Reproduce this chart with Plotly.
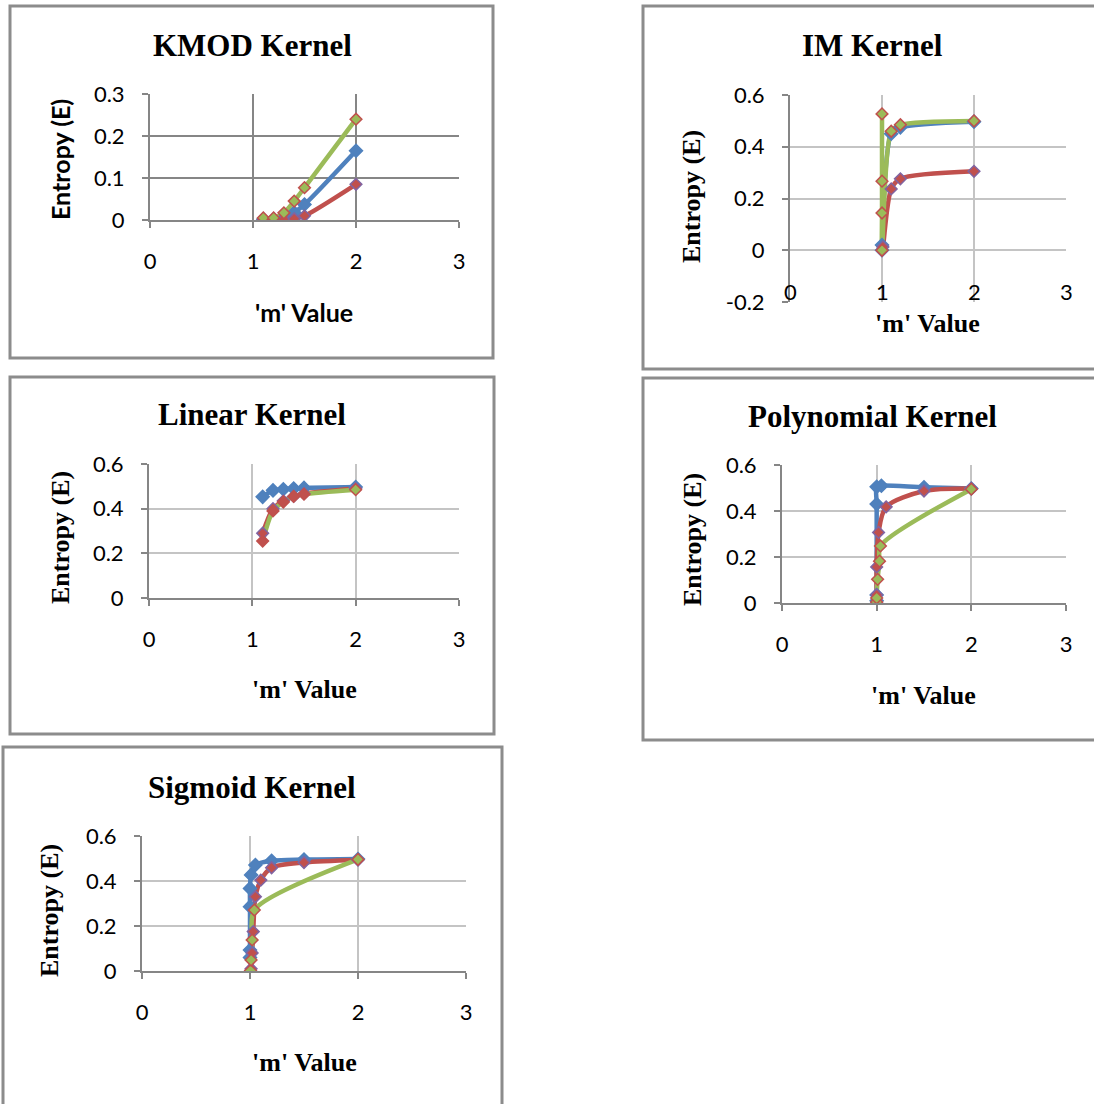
import plotly.graph_objects as go

W, H = 1094, 1104
BLUE = '#4F81BD'
RED = '#C0504D'
GREEN = '#9BBB59'
PURPLE = '#8064A2'
AXIS = '#868686'
GRID_LIGHT = '#C4C4C4'

# ---------------- data ----------------
x_ticks = [0, 1, 2, 3]
x_ticktext = ['0', '1', '2', '3']

# KMOD Kernel
kmod_m = [1.1, 1.2, 1.3, 1.4, 1.5, 2]
kmod_blue = [0.002, 0.002, 0.004, 0.018, 0.037, 0.165]
kmod_red = [0.001, 0.001, 0.002, 0.003, 0.010, 0.085]
kmod_green = [0.005, 0.005, 0.017, 0.045, 0.077, 0.240]

# IM Kernel
im_blue_m = [1.0, 1.0, 1.1, 1.2, 2]
im_blue = [0.0, 0.02, 0.45, 0.475, 0.497]
im_red_m = [1.0, 1.01, 1.1, 1.2, 2]
im_red = [0.0, 0.013, 0.237, 0.276, 0.305]
im_green_m = [1.0, 1.0, 1.0, 1.0, 1.1, 1.2, 2]
im_green = [0.527, 0.267, 0.144, 0.0, 0.46, 0.485, 0.50]

# Linear Kernel
lin_m = [1.1, 1.2, 1.3, 1.4, 1.5, 2]
lin_blue = [0.453, 0.482, 0.487, 0.490, 0.493, 0.497]
lin_red = [0.290, 0.400, 0.435, 0.455, 0.467, 0.490]
lin_green = [0.255, 0.390, 0.430, 0.455, 0.465, 0.485]

# Polynomial Kernel
poly_blue_m = [1.0, 1.0, 1.0, 1.0, 1.05, 1.5, 2]
poly_blue = [0.01, 0.035, 0.43, 0.505, 0.51, 0.503, 0.498]
poly_red_m = [1.0, 1.0, 1.0, 1.02, 1.1, 1.5, 2]
poly_red = [0.0, 0.036, 0.157, 0.307, 0.418, 0.487, 0.498]
poly_green_m = [1.0, 1.0, 1.01, 1.03, 1.04, 2]
poly_green = [0.004, 0.022, 0.103, 0.182, 0.248, 0.495]

# Sigmoid Kernel
sig_blue_m = [1.0, 1.0, 1.0, 1.0, 1.01, 1.05, 1.2, 1.5, 2]
sig_blue = [0.06, 0.093, 0.286, 0.367, 0.427, 0.471, 0.490, 0.495, 0.498]
sig_red_m = [1.01, 1.02, 1.03, 1.05, 1.1, 1.2, 1.5, 2]
sig_red = [0.01, 0.08, 0.175, 0.33, 0.404, 0.459, 0.482, 0.493]
sig_green_m = [1.005, 1.01, 1.02, 1.04, 2]
sig_green = [0.002, 0.049, 0.138, 0.271, 0.496]

# ---------------- layout helpers ----------------
def fx(p):
    return p / W


def fy(p):
    return 1 - p / H


panels = [
    dict(title='KMOD Kernel', box=(10, 6, 493, 358), plot=(150, 94, 459, 220),
         yrange=[0, 0.3], yticks=[0, 0.1, 0.2, 0.3], yticktext=['0', '0.1', '0.2', '0.3'],
         title_xy=(252, 45), ytitle_xy=(60, 160), xtitle_xy=(304, 312), sans=True,
         grid=AXIS,
         series=[(kmod_m, kmod_blue), (kmod_m, kmod_red), (kmod_m, kmod_green)]),
    dict(title='IM Kernel', box=(643, 6, 1100, 369), plot=(790, 95, 1066, 302),
         yrange=[-0.2, 0.6], yticks=[-0.2, 0, 0.2, 0.4, 0.6],
         yticktext=['-0.2', '0', '0.2', '0.4', '0.6'],
         title_xy=(872, 45), ytitle_xy=(692, 197), xtitle_xy=(927, 323), sans=False,
         grid=GRID_LIGHT, im=True,
         series=[(im_blue_m, im_blue), (im_red_m, im_red), (im_green_m, im_green)]),
    dict(title='Linear Kernel', box=(10, 377, 494, 734), plot=(149, 464, 459, 598),
         yrange=[0, 0.6], yticks=[0, 0.2, 0.4, 0.6], yticktext=['0', '0.2', '0.4', '0.6'],
         title_xy=(252, 415), ytitle_xy=(60, 538), xtitle_xy=(304, 689), sans=False,
         grid=GRID_LIGHT, linear=True,
         series=[(lin_m, lin_blue), (lin_m, lin_red), (lin_m, lin_green)]),
    dict(title='Polynomial Kernel', box=(643, 378, 1100, 740), plot=(782, 465, 1066, 603),
         yrange=[0, 0.6], yticks=[0, 0.2, 0.4, 0.6], yticktext=['0', '0.2', '0.4', '0.6'],
         title_xy=(872, 416), ytitle_xy=(692, 540), xtitle_xy=(923, 695), sans=False,
         grid=GRID_LIGHT,
         series=[(poly_blue_m, poly_blue), (poly_red_m, poly_red), (poly_green_m, poly_green)]),
    dict(title='Sigmoid Kernel', box=(3, 747, 502, 1110), plot=(142, 836, 466, 971),
         yrange=[0, 0.6], yticks=[0, 0.2, 0.4, 0.6], yticktext=['0', '0.2', '0.4', '0.6'],
         title_xy=(252, 787), ytitle_xy=(50, 911), xtitle_xy=(304, 1062), sans=False,
         grid=GRID_LIGHT,
         series=[(sig_blue_m, sig_blue), (sig_red_m, sig_red), (sig_green_m, sig_green)]),
]

SERIF = 'Liberation Serif'
SANS = 'Lato'
TICKFONT = dict(family=SANS, size=22, color='black')

fig = go.Figure()
layout = dict(template='none', width=W, height=H, margin=dict(l=0, r=0, t=0, b=0, pad=0),
              autosize=False, paper_bgcolor='white', plot_bgcolor='white', showlegend=False)
shapes = []
annotations = []

line_colors = [BLUE, RED, GREEN]
marker_fill = [BLUE, RED, GREEN]
marker_edge = [BLUE, PURPLE, RED]

for i, p in enumerate(panels):
    n = i + 1
    xa = 'x' if n == 1 else f'x{n}'
    ya = 'y' if n == 1 else f'y{n}'
    xkey = 'xaxis' if n == 1 else f'xaxis{n}'
    ykey = 'yaxis' if n == 1 else f'yaxis{n}'
    x0, y0, x1, y1 = p['plot']
    is_im = p.get('im', False)

    layout[xkey] = dict(domain=[fx(x0), fx(x1)], anchor=ya, range=[0, 3], automargin=False,
                        tickmode='array', tickvals=x_ticks, ticktext=x_ticktext,
                        showgrid=True, gridcolor=p['grid'], gridwidth=1.5,
                        showline=not is_im, linecolor=AXIS, linewidth=2,
                        zeroline=is_im, zerolinecolor=AXIS, zerolinewidth=2,
                        ticks='' if is_im else 'outside', ticklen=6, tickcolor=AXIS, tickwidth=2,
                        showticklabels=not is_im, tickfont=TICKFONT,
                        ticklabelstandoff=15, fixedrange=True)
    layout[ykey] = dict(domain=[fy(y1), fy(y0)], anchor=xa, range=p['yrange'], automargin=False,
                        tickmode='array', tickvals=p['yticks'], ticktext=p['yticktext'],
                        showgrid=True, gridcolor=p['grid'], gridwidth=1.5,
                        showline=True, linecolor=AXIS, linewidth=2, zeroline=False,
                        ticks='outside', ticklen=6, tickcolor=AXIS, tickwidth=2,
                        tickfont=TICKFONT, ticklabelstandoff=13, fixedrange=True)

    # lines first
    for s, (mx, ey) in enumerate(p['series']):
        fig.add_trace(go.Scatter(x=mx, y=ey, mode='lines', xaxis=xa, yaxis=ya,
                                 line=dict(color=line_colors[s], width=4.5,
                                           shape='spline', smoothing=0.8),
                                 hoverinfo='skip'))
    # markers on top
    for s, (mx, ey) in enumerate(p['series']):
        fill = marker_fill[s]
        edge = marker_edge[s]
        if p.get('linear') and s == 2:
            fill = [RED] * (len(mx) - 1) + [GREEN]
        fig.add_trace(go.Scatter(x=mx, y=ey, mode='markers', xaxis=xa, yaxis=ya,
                                 marker=dict(symbol='diamond', size=10 if s == 0 else 9,
                                             color=fill, line=dict(color=edge, width=1.5)),
                                 hoverinfo='skip'))

    # panel border
    bx0, by0, bx1, by1 = p['box']
    shapes.append(dict(type='rect', xref='paper', yref='paper',
                       x0=fx(bx0), x1=fx(bx1), y0=fy(by1), y1=fy(by0),
                       line=dict(color='#8C8C8C', width=3), fillcolor='rgba(0,0,0,0)'))

    # title
    tx, ty = p['title_xy']
    annotations.append(dict(text=p['title'], x=fx(tx), y=fy(ty), xref='paper', yref='paper',
                            showarrow=False, xanchor='center', yanchor='middle',
                            font=dict(family=SERIF, size=31, color='black', weight='bold')))
    fam = SANS if p['sans'] else SERIF
    sz = 25 if p['sans'] else 26
    ax_, ay_ = p['ytitle_xy']
    annotations.append(dict(text='Entropy (E)', x=fx(ax_), y=fy(ay_), xref='paper', yref='paper',
                            showarrow=False, textangle=-90, xanchor='center', yanchor='middle',
                            font=dict(family=fam, size=sz, color='black', weight='bold')))
    mx_, my_ = p['xtitle_xy']
    annotations.append(dict(text="'m' Value", x=fx(mx_), y=fy(my_), xref='paper', yref='paper',
                            showarrow=False, xanchor='center', yanchor='middle',
                            font=dict(family=fam, size=sz, color='black', weight='bold')))

    if is_im:
        for v, t in zip(x_ticks, x_ticktext):
            annotations.append(dict(text=t, x=v, y=fy(291), xref=xa, yref='paper',
                                    showarrow=False, xanchor='center', yanchor='middle',
                                    font=TICKFONT))

layout['shapes'] = shapes
layout['annotations'] = annotations
fig.update_layout(**layout)
fig.write_html('out.html', config={'displayModeBar': False},
               post_script="document.body.style.margin='0';document.body.style.overflow='hidden';")
